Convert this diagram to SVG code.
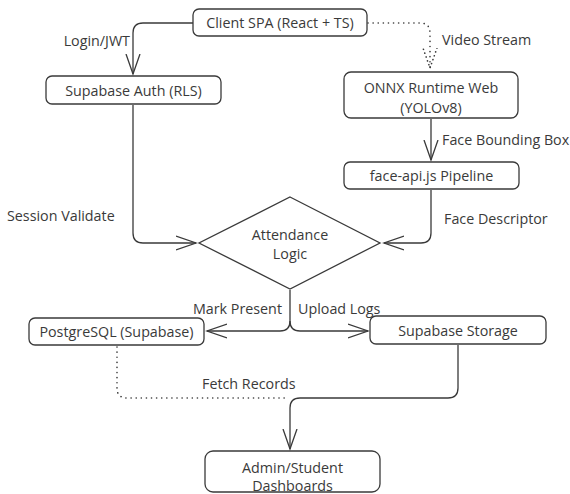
<svg xmlns="http://www.w3.org/2000/svg" width="570" height="494" viewBox="0 0 570 494">
<defs>
<style>
.box{fill:#ffffff;stroke:#3a3a3a;stroke-width:1.3}
.t{font-family:"Open Sans","Noto Sans",sans-serif;font-size:14.3px;fill:#3a3a3a;text-anchor:middle;dominant-baseline:central}
.l{font-family:"Open Sans","Noto Sans",sans-serif;font-size:14.3px;fill:#3a3a3a;dominant-baseline:central}
.e{fill:none;stroke:#3a3a3a;stroke-width:1.3}
.d{fill:none;stroke:#3a3a3a;stroke-width:1.6;stroke-dasharray:0.1 5;stroke-linecap:round}
</style>
<marker id="a" markerUnits="userSpaceOnUse" markerWidth="24" markerHeight="18" refX="20" refY="8" orient="auto">
<path d="M0,1 L20,8 L0,15" fill="none" stroke="#3a3a3a" stroke-width="1.3"/>
</marker>
<marker id="ad" markerUnits="userSpaceOnUse" markerWidth="24" markerHeight="18" refX="20" refY="8" orient="auto">
<path d="M0,1 L20,8 L0,15" fill="none" stroke="#3a3a3a" stroke-width="1.6" stroke-dasharray="0.1 4" stroke-linecap="round"/>
</marker>
</defs>
<rect width="570" height="494" fill="#ffffff"/>
<g id="connectors">
<path class="e" d="M193,23 H143 Q133,23 133,33 V74" marker-end="url(#a)"/>
<path class="d" d="M368,23 H420 Q430,23 430,33 V68" marker-end="url(#ad)"/>
<path class="e" d="M431,119 V160" marker-end="url(#a)"/>
<path class="e" d="M133,105 V233 Q133,243 143,243 H196" marker-end="url(#a)"/>
<path class="e" d="M431,190 V233 Q431,243 421,243 H384" marker-end="url(#a)"/>
<path class="e" d="M290,290 V321 Q290,331 280,331 H207" marker-end="url(#a)"/>
<path class="e" d="M290,321 Q290,331 300,331 H368" marker-end="url(#a)"/>
<path class="d" d="M117,347 V388 Q117,398 127,398 H286"/>
<path class="e" d="M458,345 V388 Q458,398 448,398 H300 Q290,398 290,408 V449" marker-end="url(#a)"/>
<text class="l" x="130" y="40" text-anchor="end">Login/JWT</text>
<text class="l" x="442" y="39">Video Stream</text>
<text class="l" x="442" y="139">Face Bounding Box</text>
<text class="l" x="7" y="215">Session Validate</text>
<text class="l" x="444" y="218">Face Descriptor</text>
<text class="l" x="282" y="308" text-anchor="end">Mark Present</text>
<text class="l" x="298" y="308">Upload Logs</text>
<text class="l" x="202" y="383">Fetch Records</text>
</g>
<g id="client"><rect class="box" x="193" y="9" width="174" height="27" rx="6"/><text class="t" x="280" y="22.5">Client SPA (React + TS)</text></g>
<g id="auth"><rect class="box" x="46" y="76" width="175" height="28" rx="6"/><text class="t" x="133.5" y="90">Supabase Auth (RLS)</text></g>
<g id="onnx"><rect class="box" x="344" y="72" width="174" height="46" rx="7"/><text class="t" x="431" y="87">ONNX Runtime Web</text><text class="t" x="431" y="107">(YOLOv8)</text></g>
<g id="faceapi"><rect class="box" x="344" y="162" width="175" height="27" rx="6"/><text class="t" x="431.5" y="175.5">face-api.js Pipeline</text></g>
<g id="logic"><polygon class="box" points="290,197 380,243 290,289 199,243"/><text class="t" x="290" y="234">Attendance</text><text class="t" x="290" y="253">Logic</text></g>
<g id="postgres"><rect class="box" x="29" y="318" width="175" height="27" rx="6"/><text class="t" x="116.5" y="331.5">PostgreSQL (Supabase)</text></g>
<g id="storage"><rect class="box" x="370" y="316" width="176" height="28" rx="6"/><text class="t" x="458" y="330">Supabase Storage</text></g>
<g id="dash"><rect class="box" x="205" y="451" width="175" height="41" rx="8"/><text class="t" x="292.5" y="467">Admin/Student</text><text class="t" x="292.5" y="485">Dashboards</text></g>
</svg>
